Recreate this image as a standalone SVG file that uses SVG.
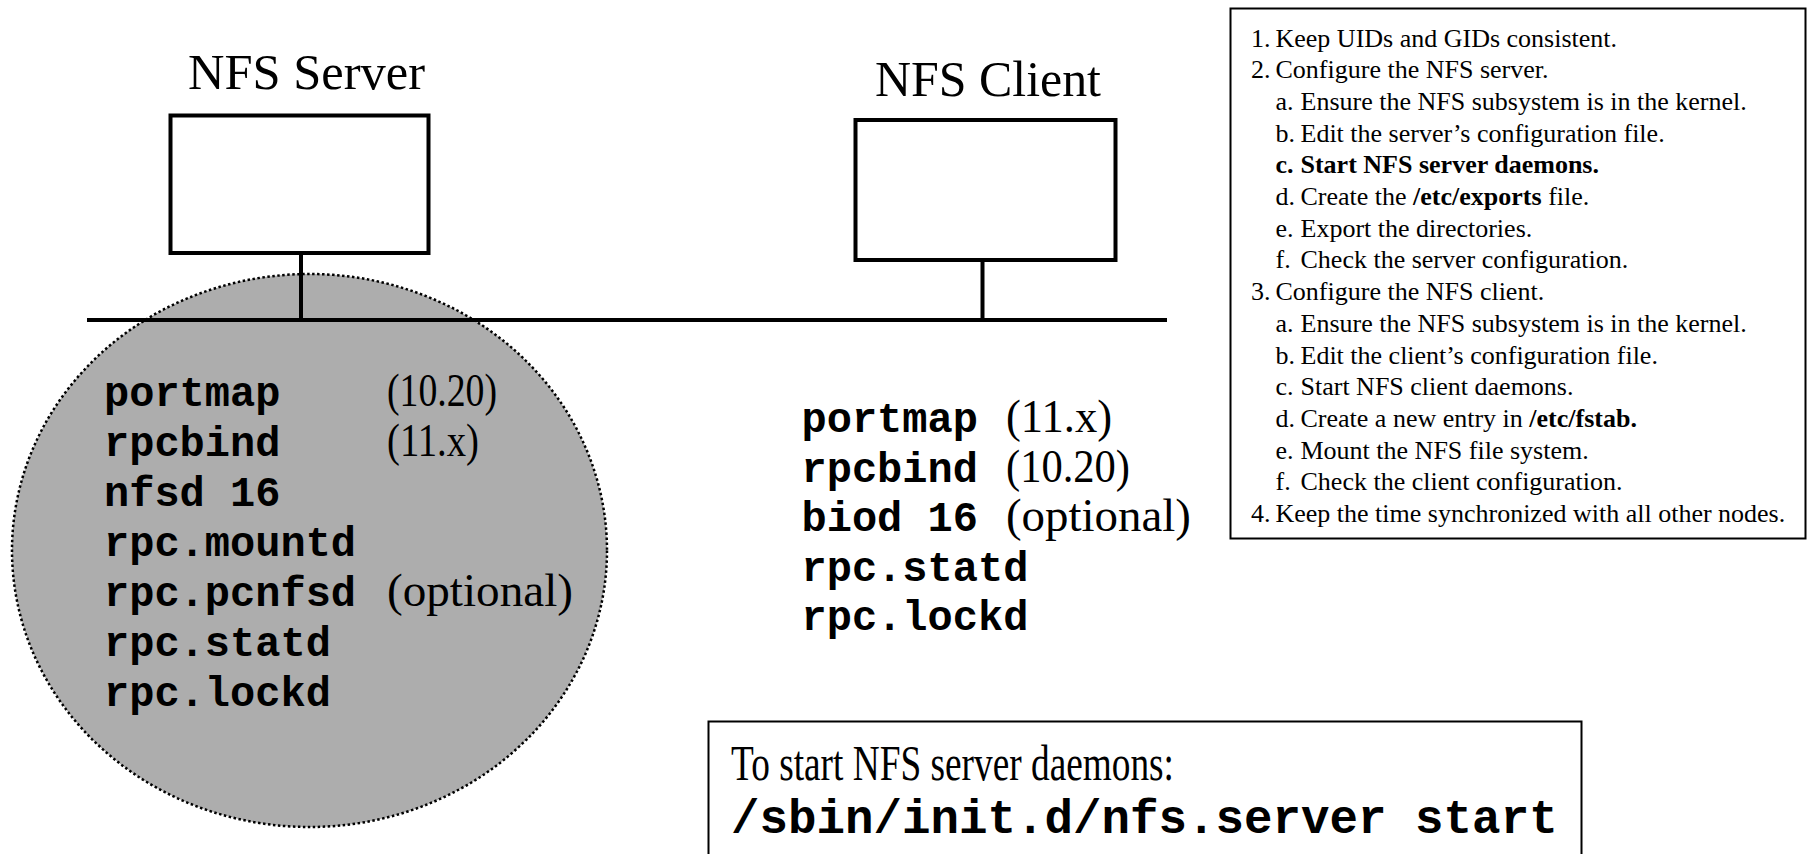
<svg xmlns="http://www.w3.org/2000/svg" width="1808" height="854" viewBox="0 0 1808 854">
<style>
.serif{font-family:"Liberation Serif","Times New Roman",serif;fill:#000}
.mono{font-family:"Liberation Mono","Courier New",monospace;font-weight:bold;fill:#000}
.title{font-size:50px}
.d{font-size:42px}
.p{font-size:46px}
.li{font-size:26px}
.b{font-weight:bold}
.box{fill:#fff;stroke:#000;stroke-width:4}
.frame{fill:#fff;stroke:#000;stroke-width:2}
.wire{stroke:#000;stroke-width:4;fill:none}
</style>
<rect width="1808" height="854" fill="#fff"/>

<g id="server-daemons-area">
<ellipse cx="309.5" cy="550.5" rx="297.5" ry="276.5" fill="#adadad" stroke="#000" stroke-width="2.5" stroke-dasharray="2.5 2.5"/>
</g>

<g id="connectors">
<line class="wire" x1="87" y1="320" x2="1167" y2="320"/>
<line class="wire" x1="301" y1="253" x2="301" y2="320"/>
<line class="wire" x1="982.5" y1="260" x2="982.5" y2="320"/>
</g>

<g id="nfs-server">
<rect class="box" x="170.5" y="115.5" width="258" height="137.5"/>
<text class="serif title" x="188" y="89" textLength="237" lengthAdjust="spacingAndGlyphs">NFS Server</text>
</g>

<g id="nfs-client">
<rect class="box" x="855.5" y="120" width="260" height="140"/>
<text class="serif title" x="875" y="96" textLength="226" lengthAdjust="spacingAndGlyphs">NFS Client</text>
</g>

<g id="server-daemons">
<text class="mono d" x="104" y="406">portmap</text>
<text class="serif p" x="387" y="406" textLength="110" lengthAdjust="spacingAndGlyphs">(10.20)</text>
<text class="mono d" x="104" y="456">rpcbind</text>
<text class="serif p" x="387" y="456" textLength="92" lengthAdjust="spacingAndGlyphs">(11.x)</text>
<text class="mono d" x="104" y="506">nfsd 16</text>
<text class="mono d" x="104" y="556">rpc.mountd</text>
<text class="mono d" x="104" y="606">rpc.pcnfsd</text>
<text class="serif p" x="387" y="606" textLength="186" lengthAdjust="spacingAndGlyphs">(optional)</text>
<text class="mono d" x="104" y="656">rpc.statd</text>
<text class="mono d" x="104" y="706">rpc.lockd</text>
</g>

<g id="client-daemons">
<text class="mono d" x="801.5" y="432">portmap</text>
<text class="serif p" x="1006" y="432" textLength="106" lengthAdjust="spacingAndGlyphs">(11.x)</text>
<text class="mono d" x="801.5" y="481.5">rpcbind</text>
<text class="serif p" x="1006" y="481.5" textLength="124" lengthAdjust="spacingAndGlyphs">(10.20)</text>
<text class="mono d" x="801.5" y="531">biod 16</text>
<text class="serif p" x="1006" y="531" textLength="185" lengthAdjust="spacingAndGlyphs">(optional)</text>
<text class="mono d" x="801.5" y="580.5">rpc.statd</text>
<text class="mono d" x="801.5" y="630">rpc.lockd</text>
</g>

<g id="steps-list">
<rect class="frame" x="1230.5" y="8.5" width="575" height="530"/>
<text class="serif li" y="46.5"><tspan x="1251">1.</tspan><tspan x="1275.5">Keep UIDs and GIDs consistent.</tspan></text>
<text class="serif li" y="78.2"><tspan x="1251">2.</tspan><tspan x="1275.5">Configure the NFS server.</tspan></text>
<text class="serif li" y="109.9"><tspan x="1275.5">a.</tspan><tspan x="1300.5">Ensure the NFS subsystem is in the kernel.</tspan></text>
<text class="serif li" y="141.6"><tspan x="1275.5">b.</tspan><tspan x="1300.5">Edit the server’s configuration file.</tspan></text>
<text class="serif li b" y="173.3"><tspan x="1275.5">c.</tspan><tspan x="1300.5">Start NFS server daemons.</tspan></text>
<text class="serif li" y="205"><tspan x="1275.5">d.</tspan><tspan x="1300.5">Create the <tspan class="b">/etc/exports</tspan> file.</tspan></text>
<text class="serif li" y="236.7"><tspan x="1275.5">e.</tspan><tspan x="1300.5">Export the directories.</tspan></text>
<text class="serif li" y="268.4"><tspan x="1275.5">f.</tspan><tspan x="1300.5">Check the server configuration.</tspan></text>
<text class="serif li" y="300.1"><tspan x="1251">3.</tspan><tspan x="1275.5">Configure the NFS client.</tspan></text>
<text class="serif li" y="331.8"><tspan x="1275.5">a.</tspan><tspan x="1300.5">Ensure the NFS subsystem is in the kernel.</tspan></text>
<text class="serif li" y="363.5"><tspan x="1275.5">b.</tspan><tspan x="1300.5">Edit the client’s configuration file.</tspan></text>
<text class="serif li" y="395.2"><tspan x="1275.5">c.</tspan><tspan x="1300.5">Start NFS client daemons.</tspan></text>
<text class="serif li" y="426.9"><tspan x="1275.5">d.</tspan><tspan x="1300.5">Create a new entry in <tspan class="b">/etc/fstab.</tspan></tspan></text>
<text class="serif li" y="458.6"><tspan x="1275.5">e.</tspan><tspan x="1300.5">Mount the NFS file system.</tspan></text>
<text class="serif li" y="490.3"><tspan x="1275.5">f.</tspan><tspan x="1300.5">Check the client configuration.</tspan></text>
<text class="serif li" y="522"><tspan x="1251">4.</tspan><tspan x="1275.5">Keep the time synchronized with all other nodes.</tspan></text>
</g>

<g id="start-command">
<rect class="frame" x="708.5" y="721.5" width="873" height="200" stroke-width="2.5"/>
<text class="serif" x="731" y="780" font-size="50" textLength="443" lengthAdjust="spacingAndGlyphs">To start NFS server daemons:</text>
<text class="mono" x="731" y="833" font-size="47.5">/sbin/init.d/nfs.server start</text>
</g>
</svg>
